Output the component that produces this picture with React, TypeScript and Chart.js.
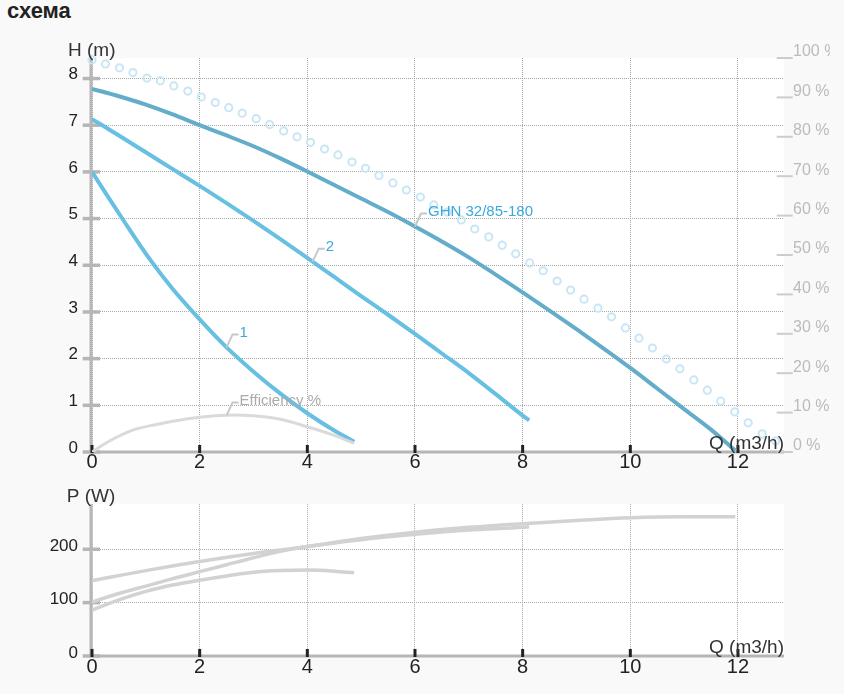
import React, { useEffect, useRef } from "react";
import { Chart, registerables } from "chart.js";

Chart.register(...registerables);

const FONT = "'Liberation Sans', Arial, Helvetica, sans-serif";
Chart.defaults.font.family = FONT;

// ---------- axis ranges / ticks ----------
const X_MAX = 12.855;
const H_MAX = 8.44;
const P_MAX = 284.4;
const Q_TICK_STEP = 2;
const H_TICK_STEP = 1;
const PCT_TICK_STEP = 10;
const P_TICK_STEP = 100;

// ---------- head curves (Q m3/h, H m) ----------
const flow1 = [0, 0.25, 0.58, 1.08, 1.5, 2, 2.5, 3, 3.5, 4, 4.5, 4.87];
const head1 = [6.0, 5.55, 4.97, 4.12, 3.49, 2.84, 2.24, 1.72, 1.25, 0.83, 0.46, 0.22];

const flow2 = [0, 0.5, 1, 1.5, 2, 2.5, 3, 3.5, 4, 4.5, 5, 5.5, 6, 6.5, 7, 7.5, 8, 8.12];
const head2 = [7.13, 6.78, 6.42, 6.06, 5.7, 5.33, 4.95, 4.56, 4.16, 3.75, 3.34, 2.94, 2.53, 2.11, 1.69, 1.24, 0.78, 0.68];

const flowGHN = [0, 0.5, 1, 1.5, 2, 2.5, 3, 3.5, 4, 4.5, 5, 5.5, 6, 6.5, 7, 7.5, 8, 8.5, 9, 9.5, 10, 10.5, 11, 11.5, 11.95];
const headGHN = [7.78, 7.62, 7.44, 7.23, 7.0, 6.78, 6.55, 6.29, 6.01, 5.72, 5.43, 5.14, 4.83, 4.51, 4.17, 3.8, 3.42, 3.03, 2.63, 2.22, 1.8, 1.36, 0.92, 0.48, 0.03];

// ---------- efficiency (%) ----------
const flowEff = [0, 0.3, 0.77, 1.2, 1.5, 2, 2.62, 3, 3.5, 4, 4.5, 4.87];
const effPct = [0, 2.6, 5.6, 7.0, 7.8, 8.8, 9.4, 9.2, 8.3, 6.4, 4.2, 2.2];

// ---------- dotted ring series (%) ----------
const flowRing = [0, 0.25, 0.51, 0.76, 1.02, 1.27, 1.52, 1.78, 2.03, 2.29, 2.54, 2.79, 3.05, 3.3, 3.56, 3.81, 4.06, 4.32, 4.57, 4.83, 5.08, 5.33, 5.59, 5.84, 6.1, 6.35, 6.6, 6.86, 7.11, 7.37, 7.62, 7.87, 8.13, 8.38, 8.64, 8.89, 9.14, 9.4, 9.65, 9.91, 10.16, 10.41, 10.67, 10.92, 11.18, 11.43, 11.68, 11.94, 12.19, 12.45, 12.7];
const ringPct = [99.5, 98.5, 97.5, 96.3, 94.9, 94.2, 92.9, 91.6, 90.1, 88.7, 87.4, 86.0, 84.6, 83.1, 81.5, 80.0, 78.6, 76.9, 75.4, 73.6, 72.0, 70.2, 68.3, 66.5, 64.7, 62.7, 60.9, 58.9, 56.6, 54.6, 52.5, 50.3, 48.0, 46.0, 43.4, 41.1, 38.8, 36.5, 34.3, 31.5, 28.9, 26.4, 23.6, 21.1, 18.3, 15.7, 12.9, 10.2, 7.4, 4.6, 2.8];

// ---------- power curves (Q m3/h, P W) ----------
const powerFlow1 = [0, 0.5, 1, 1.5, 2, 2.5, 3, 3.5, 4, 4.5, 4.87];
const power1 = [86, 105, 121, 133, 142, 150, 157, 160, 161, 159, 156];
const powerFlow2 = [0, 0.5, 1, 1.5, 2, 2.5, 3, 3.5, 4, 5, 6, 7, 8, 8.12];
const power2 = [101, 117, 131, 145, 158, 171, 184, 196, 205, 218, 228, 236, 241, 242];
const powerFlowGHN = [0, 1, 2, 3, 4, 5, 6, 7, 8, 9, 10, 11, 11.95];
const powerGHN = [141, 160, 177, 192, 205, 220, 232, 241, 248, 254, 259, 261, 261];

// ---------- curve labels ----------
const labelTexts = ["1", "2", "GHN 32/85-180", "Efficiency %"];
const labelFlows = [2.5, 4.1, 6.0, 2.5];

const toPts = (xs: number[], ys: number[]) => xs.map((x, i) => ({ x, y: ys[i] }));

function interp(xs: number[], ys: number[], q: number) {
  for (let i = 0; i < xs.length - 1; i++) {
    if (q >= xs[i] && q <= xs[i + 1]) {
      const t = (q - xs[i]) / (xs[i + 1] - xs[i]);
      return ys[i] + t * (ys[i + 1] - ys[i]);
    }
  }
  return ys[ys.length - 1];
}

type LabelDef = { text: string; q: number; xs: number[]; ys: number[]; axis: string; color: string };

function makeDecor(o: {
  yTitle: string;
  yTitleDx: number;
  yTitleDy: number;
  xTitle: string;
  xTitleDy: number;
  pct?: boolean;
  labels?: LabelDef[];
}) {
  return {
    id: "decor",
    beforeDraw(chart: any) {
      const { ctx, chartArea: a } = chart;
      ctx.save();
      ctx.fillStyle = "#ffffff";
      ctx.fillRect(a.left, a.top, a.right - a.left, a.bottom - a.top);
      ctx.restore();
    },
    beforeDatasetsDraw(chart: any) {
      const { ctx, chartArea: a, scales } = chart;
      const xs = scales.x;
      const ys = scales.y;
      ctx.save();
      ctx.fillStyle = "#b6b6b6";
      ctx.fillRect(a.left - 2.5, a.top, 3, a.bottom - a.top + 1.5);
      ctx.fillRect(a.left - 2.5, a.bottom - 1.5, a.right - a.left + 2.5, 3);
      ys.ticks.forEach((t: any) => {
        const py = ys.getPixelForValue(t.value);
        ctx.fillRect(a.left - 9.3, py - 1.75, 17.3, 3.5);
      });
      ctx.fillStyle = "#222222";
      xs.ticks.forEach((t: any) => {
        const px = xs.getPixelForValue(t.value);
        ctx.fillRect(px - 1.5, a.bottom - 7, 3, 8);
      });
      if (o.pct) {
        const y1 = scales.y1;
        ctx.fillStyle = "#cccccc";
        y1.ticks.forEach((t: any) => {
          const py = y1.getPixelForValue(t.value);
          ctx.fillRect(a.right - 7.3, py - 1, 16, 2);
        });
      }
      ctx.restore();
    },
    afterDraw(chart: any) {
      const { ctx, chartArea: a, scales } = chart;
      ctx.save();
      ctx.fillStyle = "#333333";
      ctx.font = `19px ${FONT}`;
      ctx.textBaseline = "alphabetic";
      ctx.textAlign = "left";
      ctx.fillText(o.yTitle, a.left - o.yTitleDx, a.top - o.yTitleDy);
      ctx.textAlign = "right";
      ctx.fillText(o.xTitle, a.right, a.bottom - o.xTitleDy);
      (o.labels || []).forEach((l) => {
        const ys = scales[l.axis];
        const px = scales.x.getPixelForValue(l.q);
        const py = ys.getPixelForValue(interp(l.xs, l.ys, l.q));
        ctx.strokeStyle = "#c8c8c8";
        ctx.lineWidth = 2;
        ctx.beginPath();
        ctx.moveTo(px, py);
        ctx.lineTo(px + 6, py - 13);
        ctx.lineTo(px + 12, py - 13);
        ctx.stroke();
        ctx.fillStyle = l.color;
        ctx.font = `15px ${FONT}`;
        ctx.textAlign = "left";
        ctx.textBaseline = "middle";
        ctx.fillText(l.text, px + 13, py - 15);
      });
      ctx.restore();
    },
  };
}

const gridDotted = { color: "#a8a8a8", lineWidth: 1, drawTicks: false };
const borderDotted = { display: false, dash: [1, 1] };

export default function App() {
  const topRef = useRef<HTMLCanvasElement>(null);
  const botRef = useRef<HTMLCanvasElement>(null);

  useEffect(() => {
    const lineBase = { pointRadius: 0, cubicInterpolationMode: "monotone" as const, fill: false };

    const labels: LabelDef[] = [
      { text: labelTexts[0], q: labelFlows[0], xs: flow1, ys: head1, axis: "y", color: "#3aa8dc" },
      { text: labelTexts[1], q: labelFlows[1], xs: flow2, ys: head2, axis: "y", color: "#3aa8dc" },
      { text: labelTexts[2], q: labelFlows[2], xs: flowGHN, ys: headGHN, axis: "y", color: "#3aa8dc" },
      { text: labelTexts[3], q: labelFlows[3], xs: flowEff, ys: effPct, axis: "y1", color: "#aaaaaa" },
    ];

    const c1 = new Chart(topRef.current!, {
      type: "line",
      data: {
        datasets: [
          { ...lineBase, data: toPts(flowEff, effPct), yAxisID: "y1", borderColor: "#dadada", borderWidth: 3 },
          {
            data: toPts(flowRing, ringPct),
            yAxisID: "y1",
            showLine: false,
            pointRadius: 3.6,
            pointBorderWidth: 2,
            pointBorderColor: "#c9e6f4",
            pointBackgroundColor: "rgba(255,255,255,0)",
            clip: false,
          },
          { ...lineBase, data: toPts(flow1, head1), yAxisID: "y", borderColor: "#67bfe2", borderWidth: 4 },
          { ...lineBase, data: toPts(flow2, head2), yAxisID: "y", borderColor: "#67bfe2", borderWidth: 4 },
          { ...lineBase, data: toPts(flowGHN, headGHN), yAxisID: "y", borderColor: "#64adca", borderWidth: 4 },
        ] as any,
      },
      options: {
        responsive: false,
        animation: false,
        events: [],
        layout: { autoPadding: false, padding: { top: 28, left: 0, right: 0, bottom: 0 } } as any,
        plugins: { legend: { display: false }, tooltip: { enabled: false } },
        scales: {
          x: {
            type: "linear",
            min: 0,
            max: X_MAX,
            afterFit: (s: any) => {
              s.height = 28;
            },
            ticks: { stepSize: Q_TICK_STEP, includeBounds: false, autoSkip: false, maxRotation: 0, color: "#222222", font: { size: 20 }, padding: -2 },
            grid: gridDotted,
            border: borderDotted,
          },
          y: {
            type: "linear",
            position: "left",
            min: 0,
            max: H_MAX,
            afterFit: (s: any) => {
              s.width = 84;
            },
            ticks: { stepSize: H_TICK_STEP, includeBounds: false, autoSkip: false, color: "#222222", font: { size: 17 }, padding: 14, labelOffset: -4 },
            grid: gridDotted,
            border: borderDotted,
          },
          y1: {
            type: "linear",
            position: "right",
            min: 0,
            max: 100,
            afterFit: (s: any) => {
              s.width = 46;
            },
            ticks: {
              stepSize: PCT_TICK_STEP,
              autoSkip: false,
              color: "#bbbbbb",
              font: { size: 16 },
              padding: 9,
              labelOffset: -6,
              callback: (v: any) => `${v} %`,
            },
            grid: { drawOnChartArea: false, drawTicks: false },
            border: { display: false },
          },
        } as any,
      },
      plugins: [
        makeDecor({ yTitle: "H (m)", yTitleDx: 24, yTitleDy: 2.5, xTitle: "Q (m3/h)", xTitleDy: 3, pct: true, labels }),
      ],
    });

    const c2 = new Chart(botRef.current!, {
      type: "line",
      data: {
        datasets: [
          { ...lineBase, data: toPts(powerFlow1, power1), borderColor: "#d2d2d2", borderWidth: 3.5 },
          { ...lineBase, data: toPts(powerFlow2, power2), borderColor: "#d2d2d2", borderWidth: 3.5 },
          { ...lineBase, data: toPts(powerFlowGHN, powerGHN), borderColor: "#d2d2d2", borderWidth: 3.5 },
        ] as any,
      },
      options: {
        responsive: false,
        animation: false,
        events: [],
        layout: { autoPadding: false, padding: { top: 20, left: 0, right: 46, bottom: 0 } } as any,
        plugins: { legend: { display: false }, tooltip: { enabled: false } },
        scales: {
          x: {
            type: "linear",
            min: 0,
            max: X_MAX,
            afterFit: (s: any) => {
              s.height = 38;
            },
            ticks: { stepSize: Q_TICK_STEP, includeBounds: false, autoSkip: false, maxRotation: 0, color: "#222222", font: { size: 20 }, padding: -1 },
            grid: gridDotted,
            border: borderDotted,
          },
          y: {
            type: "linear",
            position: "left",
            min: 0,
            max: P_MAX,
            afterFit: (s: any) => {
              s.width = 84;
            },
            ticks: { stepSize: P_TICK_STEP, includeBounds: false, autoSkip: false, color: "#222222", font: { size: 17 }, padding: 14, labelOffset: -3 },
            grid: gridDotted,
            border: borderDotted,
          },
        } as any,
      },
      plugins: [makeDecor({ yTitle: "P (W)", yTitleDx: 25.3, yTitleDy: 2, xTitle: "Q (m3/h)", xTitleDy: 3.3 })],
    });

    return () => {
      c1.destroy();
      c2.destroy();
    };
  }, []);

  return (
    <div
      style={{
        position: "absolute",
        left: 0,
        top: 0,
        width: 844,
        height: 694,
        background: "#f9f9f9",
        overflow: "hidden",
        fontFamily: FONT,
      }}
    >
      <div
        style={{
          position: "absolute",
          left: 7,
          top: 0,
          fontSize: 22,
          lineHeight: "22px",
          fontWeight: "bold",
          color: "#222222",
        }}
      >
        схема
      </div>
      <canvas
        ref={topRef}
        width={822}
        height={450}
        style={{ position: "absolute", left: 8, top: 30, width: 822, height: 450 }}
      />
      <canvas
        ref={botRef}
        width={822}
        height={214}
        style={{ position: "absolute", left: 8, top: 480, width: 822, height: 214 }}
      />
    </div>
  );
}
